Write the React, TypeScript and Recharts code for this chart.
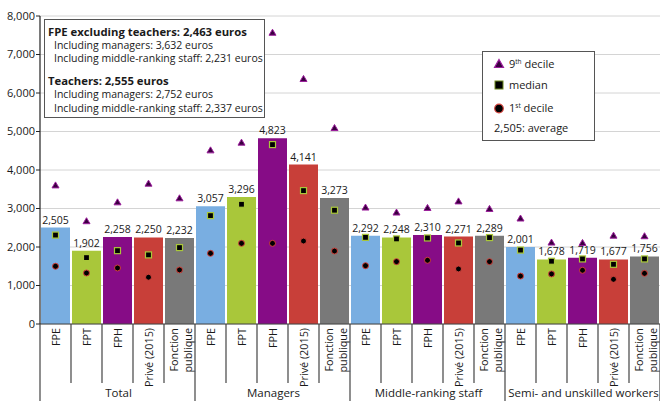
import React from 'react';
import {
  ComposedChart,
  Bar,
  Line,
  Cell,
  XAxis,
  YAxis,
  CartesianGrid,
  LabelList,
} from 'recharts';

// Staff categories shown as the four bar groups
const groups = ['Total', 'Managers', 'Middle-ranking staff', 'Semi- and unskilled workers'];
// Employer sectors inside each group
const sectors = ['FPE', 'FPT', 'FPH', 'Privé (2015)', 'Fonction publique'];
const sectorColors = ['#79aee1', '#a9c73a', '#860c86', '#c83f39', '#797979'];

// Net monthly wage, euros — one value per (group, sector), group by group
const average = [
  2505, 1902, 2258, 2250, 2232,
  3057, 3296, 4823, 4141, 3273,
  2292, 2248, 2310, 2271, 2289,
  2001, 1678, 1719, 1677, 1756,
];
const decile9 = [
  3600, 2670, 3160, 3645, 3265,
  4510, 4710, 7565, 6365, 5090,
  3025, 2895, 3015, 3185, 2990,
  2740, 2115, 2105, 2295, 2280,
];
const median = [
  2310, 1725, 1905, 1795, 1985,
  2815, 3110, 4660, 3465, 2955,
  2250, 2210, 2235, 2105, 2245,
  1920, 1630, 1690, 1550, 1690,
];
const decile1 = [
  1500, 1325, 1455, 1215, 1405,
  1835, 2095, 2095, 2155, 1895,
  1515, 1620, 1655, 1430, 1620,
  1245, 1300, 1395, 1160, 1315,
];

const yTicks = [0, 1000, 2000, 3000, 4000, 5000, 6000, 7000, 8000];

const rows = average.map((avg, i) => ({
  id: i,
  sector: sectors[i % sectors.length],
  group: groups[Math.floor(i / sectors.length)],
  avg,
  d9: decile9[i],
  med: median[i],
  d1: decile1[i],
}));

const FONT = '"Open Sans", "Noto Sans", sans-serif';
const fmt = (v: number) => v.toLocaleString('en-US');

const TriangleDot = (p: any) => {
  const { cx, cy, index } = p;
  if (cx == null || cy == null) return <g key={`t${index}`} />;
  return (
    <polygon
      key={`t${index}`}
      points={`${cx},${cy - 3.5} ${cx + 3.5},${cy + 2.5} ${cx - 3.5},${cy + 2.5}`}
      fill="#3a0040"
      stroke="#9b1c9b"
      strokeWidth={1}
    />
  );
};

const SquareDot = (p: any) => {
  const { cx, cy, index } = p;
  if (cx == null || cy == null) return <g key={`s${index}`} />;
  return (
    <rect
      key={`s${index}`}
      x={cx - 3}
      y={cy - 3}
      width={6}
      height={6}
      fill="#000"
      stroke="#a9c73a"
      strokeWidth={1.2}
    />
  );
};

const CircleDot = (p: any) => {
  const { cx, cy, index } = p;
  if (cx == null || cy == null) return <g key={`c${index}`} />;
  return <circle key={`c${index}`} cx={cx} cy={cy} r={3} fill="#000" stroke="#d2423c" strokeWidth={1} />;
};

// Sector names (rotated), separators between categories and the group captions
const SectorTick = (p: any) => {
  const { x, y, payload } = p;
  const i = Number(payload.value);
  const name = sectors[i % sectors.length];
  const half = 15.5;
  const top = y + 4;
  const pos = i % sectors.length;
  const lastInGroup = pos === sectors.length - 1;
  const textProps = {
    fontSize: 10.8,
    fill: '#1a1a1a',
    fontFamily: FONT,
    textAnchor: 'end' as const,
    dominantBaseline: 'central' as const,
  };
  return (
    <g>
      {name === 'Fonction publique' ? (
        <>
          <text transform={`translate(${x - 6},${top}) rotate(-90)`} {...textProps}>Fonction</text>
          <text transform={`translate(${x + 8},${top}) rotate(-90)`} {...textProps}>publique</text>
        </>
      ) : (
        <text transform={`translate(${x},${top}) rotate(-90)`} {...textProps}>{name}</text>
      )}
      {i === 0 && <line x1={x - half} x2={x - half} y1={y} y2={y + 80} stroke="#444" strokeWidth={1.2} />}
      <line
        x1={x + half}
        x2={x + half}
        y1={y}
        y2={lastInGroup ? y + 80 : y + 59}
        stroke="#444"
        strokeWidth={1.2}
      />
      {pos === 2 && (
        <text x={x + 1} y={y + 73} fontSize={11.5} fill="#1a1a1a" fontFamily={FONT} textAnchor="middle">
          {groups[Math.floor(i / sectors.length)]}
        </text>
      )}
    </g>
  );
};

const lineStyle: React.CSSProperties = {
  position: 'absolute',
  whiteSpace: 'nowrap',
  fontSize: 10.5,
  lineHeight: '14px',
  color: '#1a1a1a',
};

const supStyle: React.CSSProperties = { fontSize: 6.5, verticalAlign: 'top', lineHeight: '10px' };

export default function App() {
  return (
    <div
      style={{
        position: 'absolute',
        left: 0,
        top: 0,
        width: 660,
        height: 401,
        background: '#fff',
        fontFamily: FONT,
        overflow: 'hidden',
      }}
    >
      <ComposedChart
        width={660}
        height={401}
        data={rows}
        margin={{ top: 16, right: 0, bottom: 0, left: 0 }}
        barCategoryGap={1}
      >
        <CartesianGrid vertical={false} stroke="#d4d4d4" strokeWidth={1} />
        <XAxis
          dataKey="id"
          type="category"
          height={77}
          interval={0}
          tickLine={false}
          tickSize={0}
          tickMargin={0}
          axisLine={{ stroke: '#444', strokeWidth: 1.2 }}
          tick={<SectorTick />}
        />
        <YAxis
          width={40}
          domain={[0, 8000]}
          ticks={yTicks}
          interval={0}
          tickFormatter={fmt}
          tickSize={4}
          tickMargin={1}
          axisLine={{ stroke: '#222', strokeWidth: 1.2 }}
          tickLine={{ stroke: '#222' }}
          tick={{ fontSize: 11, fill: '#1a1a1a', fontFamily: FONT }}
        />
        <Bar dataKey="avg" isAnimationActive={false}>
          {rows.map((r, i) => (
            <Cell key={i} fill={sectorColors[i % sectorColors.length]} />
          ))}
          <LabelList
            dataKey="avg"
            position="top"
            offset={4}
            formatter={(v: any) => fmt(Number(v))}
            style={{ fontSize: 10.5, fill: '#1a1a1a', fontFamily: FONT }}
          />
        </Bar>
        <Line dataKey="d9" stroke="none" dot={TriangleDot} activeDot={false} isAnimationActive={false} legendType="none" />
        <Line dataKey="med" stroke="none" dot={SquareDot} activeDot={false} isAnimationActive={false} legendType="none" />
        <Line dataKey="d1" stroke="none" dot={CircleDot} activeDot={false} isAnimationActive={false} legendType="none" />
      </ComposedChart>

      {/* Reference wages box */}
      <div
        style={{
          position: 'absolute',
          left: 44,
          top: 19,
          width: 219,
          height: 97,
          border: '1px solid #555',
          background: '#fff',
        }}
      >
        <div style={{ ...lineStyle, left: 3, top: 5, fontWeight: 700, fontSize: 11.3 }}>FPE excluding teachers: 2,463 euros</div>
        <div style={{ ...lineStyle, left: 9, top: 18 }}>Including managers: 3,632 euros</div>
        <div style={{ ...lineStyle, left: 9, top: 31 }}>Including middle-ranking staff: 2,231 euros</div>
        <div style={{ ...lineStyle, left: 3, top: 54, fontWeight: 700, fontSize: 11.3 }}>Teachers: 2,555 euros</div>
        <div style={{ ...lineStyle, left: 9, top: 67 }}>Including managers: 2,752 euros</div>
        <div style={{ ...lineStyle, left: 9, top: 81 }}>Including middle-ranking staff: 2,337 euros</div>
      </div>

      {/* Marker key */}
      <div
        style={{
          position: 'absolute',
          left: 482,
          top: 51,
          width: 111,
          height: 88,
          border: '1px solid #555',
          background: '#fff',
        }}
      >
        <svg width={22} height={88} style={{ position: 'absolute', left: 0, top: 0 }}>
          <polygon points="16,7.5 20.5,15.5 11.5,15.5" fill="#3a0040" stroke="#9b1c9b" strokeWidth={1.2} />
          <rect x={12} y={29} width={8} height={8} fill="#000" stroke="#6f8a1c" strokeWidth={1} />
          <circle cx={16} cy={56.5} r={4.3} fill="#000" stroke="#d2423c" strokeWidth={1.2} />
        </svg>
        <div style={{ ...lineStyle, left: 26, top: 5, fontSize: 11 }}>
          9<sup style={supStyle}>th</sup> decile
        </div>
        <div style={{ ...lineStyle, left: 26, top: 26, fontSize: 11 }}>median</div>
        <div style={{ ...lineStyle, left: 26, top: 49, fontSize: 11 }}>
          1<sup style={supStyle}>st</sup> decile
        </div>
        <div style={{ ...lineStyle, left: 11, top: 69, fontSize: 11 }}>2,505: average</div>
      </div>
    </div>
  );
}
